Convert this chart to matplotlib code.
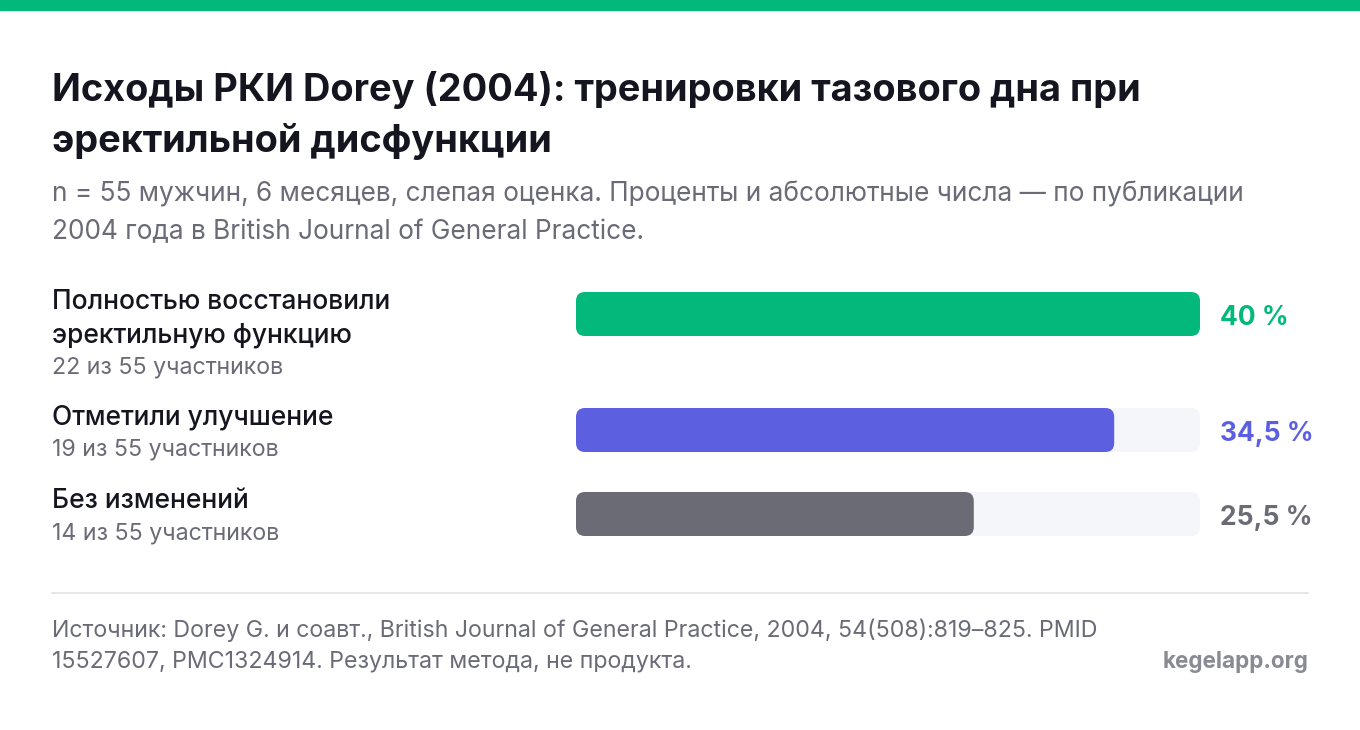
import matplotlib
matplotlib.use("Agg")
import matplotlib.pyplot as plt
from matplotlib.patches import FancyBboxPatch, Rectangle

plt.rcParams['font.family'] = ['Inter', 'DejaVu Sans']

labels = ["Полностью восстановили\nэректильную функцию", "Отметили улучшение", "Без изменений"]
sublabels = ["22 из 55 участников", "19 из 55 участников", "14 из 55 участников"]
values = [40, 34.5, 25.5]
value_text = ["40 %", "34,5 %", "25,5 %"]
colors = ["#02b87a", "#5b5fe0", "#6b6b75"]
scale_max = 40

W, H = 1360, 730
fig = plt.figure(figsize=(W/100, H/100), dpi=100)
fig.patch.set_facecolor("white")

def px(x, y):
    return x / W, 1 - y / H

fig.patches.append(Rectangle((0, 1 - 10/H), 1, 10/H, transform=fig.transFigure, color="#02b87a"))
fig.text(*px(52, 90), "Исходы РКИ Dorey (2004): тренировки тазового дна при", fontsize=27.3, weight="bold", color="#151520", va="center")
fig.text(*px(52, 142), "эректильной дисфункции", fontsize=27.3, weight="bold", color="#151520", va="center")
fig.text(*px(52, 194), "n = 55 мужчин, 6 месяцев, слепая оценка. Проценты и абсолютные числа — по публикации", fontsize=18.9, color="#6b6b78", va="center")
fig.text(*px(52, 232), "2004 года в British Journal of General Practice.", fontsize=18.9, color="#6b6b78", va="center")

centers = [314, 430, 514]
label_tops = [[302, 335], [417], [501]]
sub_y = [368, 450, 534]

ax = fig.add_axes([576/W, 1 - 560/H, 624/W, 290/H])
ax.set_xlim(0, scale_max)
ax.set_ylim(560, 270)
ax.axis("off")
pxx = 624 / scale_max
for i, v in enumerate(values):
    yc = centers[i]
    r = 9
    bg = FancyBboxPatch((0, yc - 22), scale_max, 44, boxstyle=f"round,pad=0,rounding_size={r/pxx}",
                        mutation_aspect=pxx, fc="#f5f6fa", ec="none")
    ax.add_patch(bg)
    b = FancyBboxPatch((0, yc - 22), v, 44, boxstyle=f"round,pad=0,rounding_size={r/pxx}",
                       mutation_aspect=pxx, fc=colors[i], ec="none")
    ax.add_patch(b)
    fig.text(*px(1220, yc + 4), value_text[i], fontsize=19, weight="bold", color=colors[i], va="center")
    for line, y in zip(labels[i].split("\n"), label_tops[i]):
        fig.text(*px(52, y), line, fontsize=19, weight="medium", color="#151520", va="center")
    fig.text(*px(52, sub_y[i]), sublabels[i], fontsize=16.7, color="#6b6b78", va="center")

fig.lines.append(plt.Line2D([52/W, 1308/W], [1 - 593/H]*2, transform=fig.transFigure, color="#e3e3e8", lw=1.2))
fig.text(*px(52, 630), "Источник: Dorey G. и соавт., British Journal of General Practice, 2004, 54(508):819–825. PMID", fontsize=16.7, color="#6b6b78", va="center")
fig.text(*px(52, 662), "15527607, PMC1324914. Результат метода, не продукта.", fontsize=16.7, color="#6b6b78", va="center")
fig.text(*px(1308, 662), "kegelapp.org", fontsize=16.2, weight="bold", color="#8a8a94", va="center", ha="right")

fig.savefig("out.png", dpi=100)
